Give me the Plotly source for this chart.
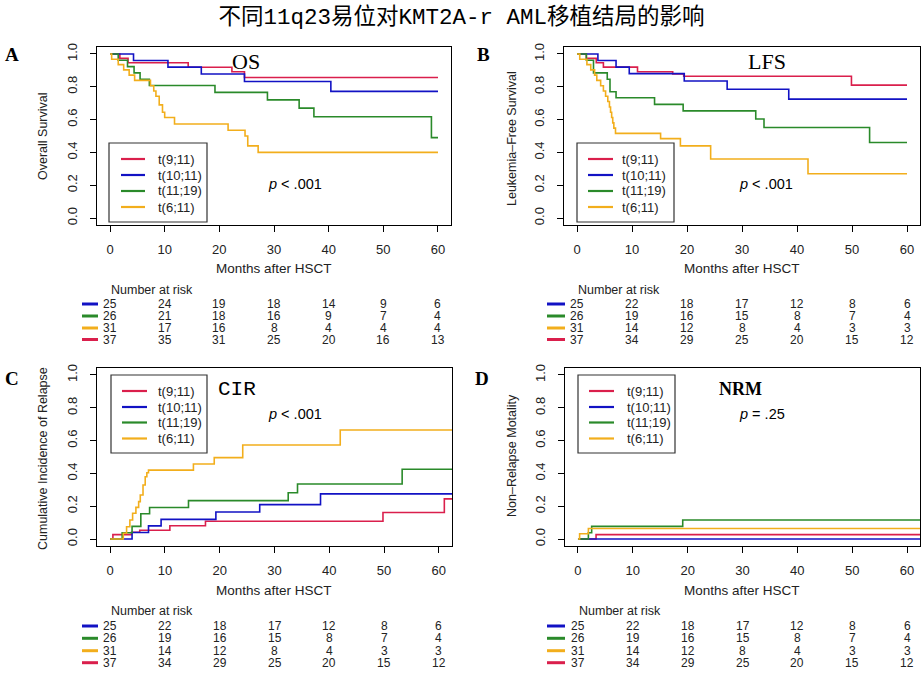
import plotly.graph_objects as go

# ======================= DATA =======================
groups = ["t(9;11)", "t(10;11)", "t(11;19)", "t(6;11)"]
month_ticks = [0, 10, 20, 30, 40, 50, 60]
prob_ticks = [0.0, 0.2, 0.4, 0.6, 0.8, 1.0]
prob_tick_labels = ["0.0", "0.2", "0.4", "0.6", "0.8", "1.0"]

# A: Overall survival
os_911_t = [0, 1.8, 3.3, 14.3, 22.3, 24.6, 60]
os_911_s = [1.0, 0.973, 0.946, 0.919, 0.892, 0.857, 0.857]
os_1011_t = [0, 4.3, 10.6, 16.7, 24.6, 40.4, 60]
os_1011_s = [1.0, 0.96, 0.92, 0.878, 0.832, 0.772, 0.772]
os_1119_t = [0, 1.5, 3.2, 4.4, 5.5, 7.2, 19.2, 28.8, 34.6, 37.3, 58.8, 60]
os_1119_s = [1.0, 0.962, 0.923, 0.885, 0.846, 0.808, 0.766, 0.72, 0.67, 0.617, 0.49, 0.49]
os_611_t = [0, 0.3, 1.5, 2.5, 3.5, 4.5, 7.4, 8.0, 8.4, 9.0, 9.6, 10.0, 11.8, 21.6, 24.7, 25.2, 27.1, 60]
os_611_s = [1.0, 0.968, 0.935, 0.903, 0.871, 0.839, 0.806, 0.774, 0.742, 0.69, 0.645, 0.613, 0.573,
            0.535, 0.50, 0.44, 0.40, 0.40]

# B: Leukemia-free survival
lfs_911_t = [0, 1.7, 3.5, 4.8, 11.0, 17.4, 19.4, 49.9, 60]
lfs_911_s = [1.0, 0.973, 0.946, 0.92, 0.892, 0.878, 0.864, 0.81, 0.81]
lfs_1011_t = [0, 3.8, 7.1, 9.5, 19.5, 27.3, 38.5, 60]
lfs_1011_s = [1.0, 0.96, 0.92, 0.88, 0.835, 0.785, 0.725, 0.725]
lfs_1119_t = [0, 1.7, 3.0, 5.5, 6.0, 7.1, 14.1, 19.3, 32.5, 34.0, 53.2, 60]
lfs_1119_s = [1.0, 0.962, 0.885, 0.846, 0.77, 0.733, 0.693, 0.653, 0.604, 0.552, 0.46, 0.46]
lfs_611_t = [0, 0.5, 1.8, 2.5, 3.2, 3.6, 4.3, 4.8, 5.2, 5.6, 5.9, 6.1, 6.3, 6.5, 6.7, 7.0,
             15.2, 18.8, 24.3, 42.0, 60]
lfs_611_s = [1.0, 0.968, 0.935, 0.903, 0.871, 0.839, 0.806, 0.774, 0.742, 0.71, 0.677, 0.645,
             0.613, 0.58, 0.548, 0.516, 0.484, 0.44, 0.36, 0.27, 0.27]

# C: Cumulative incidence of relapse
cir_911_t = [0, 0.5, 3.9, 5.4, 10.9, 17.4, 49.8, 61.0, 63]
cir_911_c = [0.0, 0.027, 0.041, 0.054, 0.081, 0.108, 0.162, 0.245, 0.245]
cir_1011_t = [0, 4.0, 7.0, 9.3, 19.3, 27.3, 38.4, 63]
cir_1011_c = [0.0, 0.04, 0.08, 0.12, 0.165, 0.21, 0.275, 0.275]
cir_1119_t = [0, 2.2, 4.0, 5.6, 7.2, 14.3, 32.5, 34.2, 53.3, 63]
cir_1119_c = [0.0, 0.038, 0.077, 0.154, 0.192, 0.234, 0.282, 0.335, 0.425, 0.425]
cir_611_t = [0, 2.4, 3.0, 3.6, 4.1, 4.7, 5.2, 5.5, 6.0, 6.4, 6.7, 7.0, 15.2, 19.0, 24.2, 42.0, 63]
cir_611_c = [0.0, 0.035, 0.075, 0.116, 0.157, 0.193, 0.228, 0.268, 0.329, 0.38, 0.404, 0.42,
             0.457, 0.496, 0.573, 0.665, 0.665]

# D: Non-relapse mortality
nrm_911_t = [0, 3.3, 63]
nrm_911_c = [0.0, 0.027, 0.027]
nrm_1011_t = [0, 63]
nrm_1011_c = [0.0, 0.0]
nrm_1119_t = [0, 1.9, 2.5, 19.1, 63]
nrm_1119_c = [0.0, 0.038, 0.077, 0.116, 0.116]
nrm_611_t = [0, 0.3, 1.9, 63]
nrm_611_c = [0.0, 0.032, 0.064, 0.064]

# Number at risk (row order in tables: t(10;11), t(11;19), t(6;11), t(9;11))
risk_times = [0, 10, 20, 30, 40, 50, 60]
os_risk_1011 = [25, 24, 19, 18, 14, 9, 6]
os_risk_1119 = [26, 21, 18, 16, 9, 7, 4]
os_risk_611 = [31, 17, 16, 8, 4, 4, 4]
os_risk_911 = [37, 35, 31, 25, 20, 16, 13]
ev_risk_1011 = [25, 22, 18, 17, 12, 8, 6]
ev_risk_1119 = [26, 19, 16, 15, 8, 7, 4]
ev_risk_611 = [31, 14, 12, 8, 4, 3, 3]
ev_risk_911 = [37, 34, 29, 25, 20, 15, 12]

# ======================= STYLE =======================
W, H = 923, 674
C911, C1011, C1119, C611 = "#DA1F4C", "#1212C4", "#2A8A2A", "#F2AE1C"
group_colors = [C911, C1011, C1119, C611]
SANS = "Liberation Sans, Arial, sans-serif"
SERIF = "Liberation Serif, Times New Roman, serif"


def fx(p):
    return p / W


def fy(p):
    return 1 - p / H


panels = [
    dict(n="", letter="A", letter_xy=(12, 55), dx=(96.9, 451.1), dy=(47.4, 224.6),
         curves=[(os_911_t, os_911_s), (os_1011_t, os_1011_s), (os_1119_t, os_1119_s), (os_611_t, os_611_s)],
         ytitle="Overall Survival", ytitle_xy=(43, 136), xtitle_xy=(274, 268),
         tag="OS", tag_xy=(246, 62), tag_font=dict(family=SERIF, size=22),
         ptxt="<i>p</i> < .001", p_xy=(295, 184),
         leg_box=(109, 143, 207, 222), leg_line=(121, 145), leg_text=156, leg_rows=[159, 175, 191, 207],
         risk=[os_risk_1011, os_risk_1119, os_risk_611, os_risk_911], risk_head=290,
         risk_rows=[304, 316, 328, 339.5], risk_line=(82, 98)),
    dict(n="2", letter="B", letter_xy=(483, 55), dx=(563.8, 920.2), dy=(47.4, 224.6),
         curves=[(lfs_911_t, lfs_911_s), (lfs_1011_t, lfs_1011_s), (lfs_1119_t, lfs_1119_s), (lfs_611_t, lfs_611_s)],
         ytitle="Leukemia\u2013Free Survival", ytitle_xy=(512, 139), xtitle_xy=(742, 268),
         tag="LFS", tag_xy=(767, 62), tag_font=dict(family=SERIF, size=22),
         ptxt="<i>p</i> < .001", p_xy=(766, 184),
         leg_box=(577, 143, 674, 222), leg_line=(588, 613), leg_text=620, leg_rows=[159, 175, 191, 207],
         risk=[ev_risk_1011, ev_risk_1119, ev_risk_611, ev_risk_911], risk_head=290,
         risk_rows=[304, 316, 328, 339.5], risk_line=(547, 565)),
    dict(n="3", letter="C", letter_xy=(12, 378), dx=(97, 452), dy=(368.4, 545.6),
         curves=[(cir_911_t, cir_911_c), (cir_1011_t, cir_1011_c), (cir_1119_t, cir_1119_c), (cir_611_t, cir_611_c)],
         ytitle="Cumulative Incidence of Relapse", ytitle_xy=(43, 459), xtitle_xy=(274, 590),
         tag="CIR", tag_xy=(237, 389), tag_font=dict(family="Liberation Mono, Courier New, monospace", size=21),
         ptxt="<i>p</i> < .001", p_xy=(295, 414),
         leg_box=(111, 375, 207, 453), leg_line=(122, 147), leg_text=156, leg_rows=[391, 407, 422.5, 438.5],
         risk=[ev_risk_1011, ev_risk_1119, ev_risk_611, ev_risk_911], risk_head=611,
         risk_rows=[626, 638.3, 650.7, 662.7], risk_line=(82, 98)),
    dict(n="4", letter="D", letter_xy=(482, 378), dx=(564.8, 920.2), dy=(368.4, 545.6),
         curves=[(nrm_911_t, nrm_911_c), (nrm_1011_t, nrm_1011_c), (nrm_1119_t, nrm_1119_c), (nrm_611_t, nrm_611_c)],
         ytitle="Non\u2013Relapse Motality", ytitle_xy=(512, 456), xtitle_xy=(742, 590),
         tag="<b>NRM</b>", tag_xy=(740, 389), tag_font=dict(family=SERIF, size=18),
         ptxt="<i>p</i> = .25", p_xy=(762, 414),
         leg_box=(578, 375, 675, 453), leg_line=(589, 614), leg_text=625, leg_rows=[391, 407, 422.5, 438.5],
         risk=[ev_risk_1011, ev_risk_1119, ev_risk_611, ev_risk_911], risk_head=611,
         risk_rows=[626, 638.3, 650.7, 662.7], risk_line=(547, 565)),
]

risk_colors = [C1011, C1119, C611, C911]

fig = go.Figure()
annotations = []
shapes = []
layout_axes = {}


def note(text, x, y, xref="paper", xanchor="center", **kw):
    d = dict(text=text, x=x, y=y, xref=xref, yref="paper", xanchor=xanchor, yanchor="middle",
             showarrow=False)
    d.update(kw)
    annotations.append(d)


for p in panels:
    n = p["n"]
    xa, ya = "x" + n, "y" + n
    for (t, v), name, col in zip(p["curves"], groups, group_colors):
        fig.add_trace(go.Scatter(x=t, y=v, mode="lines", name=name, showlegend=False,
                                 line=dict(color=col, width=1.6, shape="hv"),
                                 xaxis=xa, yaxis=ya, hoverinfo="skip"))
    common = dict(showline=True, mirror=True, linecolor="black", linewidth=1, showgrid=False,
                  zeroline=False, ticks="outside", ticklen=6, tickcolor="black", automargin=False,
                  tickfont=dict(family=SANS, size=13, color="#222"))
    layout_axes["xaxis" + n] = dict(common, domain=[fx(p["dx"][0]), fx(p["dx"][1])], range=[-2.4, 62.4],
                                    tickvals=month_ticks, anchor=ya, ticklabelstandoff=7)
    layout_axes["yaxis" + n] = dict(common, domain=[fy(p["dy"][1]), fy(p["dy"][0])], range=[-0.04, 1.04],
                                    tickvals=prob_ticks, ticktext=prob_tick_labels, tickangle=-90, anchor=xa,
                                    ticklabelstandoff=8)

    note("<b>%s</b>" % p["letter"], fx(p["letter_xy"][0]), fy(p["letter_xy"][1]),
         font=dict(family=SERIF, size=19, color="black"))
    note(p["tag"], fx(p["tag_xy"][0]), fy(p["tag_xy"][1]), font=dict(p["tag_font"], color="black"))
    note(p["ptxt"], fx(p["p_xy"][0]), fy(p["p_xy"][1]), font=dict(family=SANS, size=14.5, color="black"))
    note("Months after HSCT", fx(p["xtitle_xy"][0]), fy(p["xtitle_xy"][1]),
         font=dict(family=SANS, size=13.5, color="#222"))
    note(p["ytitle"], fx(p["ytitle_xy"][0]), fy(p["ytitle_xy"][1]), textangle=-90,
         font=dict(family=SANS, size=12.5, color="#222"))

    # legend box
    x0, y0, x1, y1 = p["leg_box"]
    shapes.append(dict(type="rect", xref="paper", yref="paper", x0=fx(x0), x1=fx(x1), y0=fy(y1), y1=fy(y0),
                       line=dict(color="#333", width=1.2), fillcolor="white", layer="above"))
    for name, col, ry in zip(groups, group_colors, p["leg_rows"]):
        shapes.append(dict(type="line", xref="paper", yref="paper", x0=fx(p["leg_line"][0]), x1=fx(p["leg_line"][1]),
                           y0=fy(ry), y1=fy(ry), line=dict(color=col, width=2.2), layer="above"))
        note(name, fx(p["leg_text"]), fy(ry), xanchor="left", font=dict(family=SANS, size=13, color="#222"))

    # number at risk table
    note("Number at risk", risk_times[0], fy(p["risk_head"]), xref=xa, xanchor="left", xshift=-1,
         font=dict(family=SANS, size=12.5, color="#222"))
    for row, col, ry in zip(p["risk"], risk_colors, p["risk_rows"]):
        shapes.append(dict(type="line", xref="paper", yref="paper", x0=fx(p["risk_line"][0]),
                           x1=fx(p["risk_line"][1]), y0=fy(ry), y1=fy(ry), line=dict(color=col, width=3)))
        for t, val in zip(risk_times, row):
            note(str(val), t, fy(ry), xref=xa, borderpad=0, font=dict(family=SANS, size=12, color="#222"))

fig.update_layout(
    width=W, height=H,
    margin=dict(l=0, r=0, t=0, b=0),
    paper_bgcolor="white", plot_bgcolor="white",
    showlegend=False,
    title=dict(text="不同11q23易位对KMT2A-r AML移植结局的影响", x=0.5, xanchor="center",
               y=fy(16), yanchor="middle", yref="paper",
               font=dict(family="Liberation Mono, Noto Sans CJK SC, monospace", size=22.5, color="black")),
    annotations=annotations,
    shapes=shapes,
    **layout_axes,
)

fig.write_html("out.html", config={"displayModeBar": False},
               post_script="document.body.style.margin='0';document.body.style.overflow='hidden';")
